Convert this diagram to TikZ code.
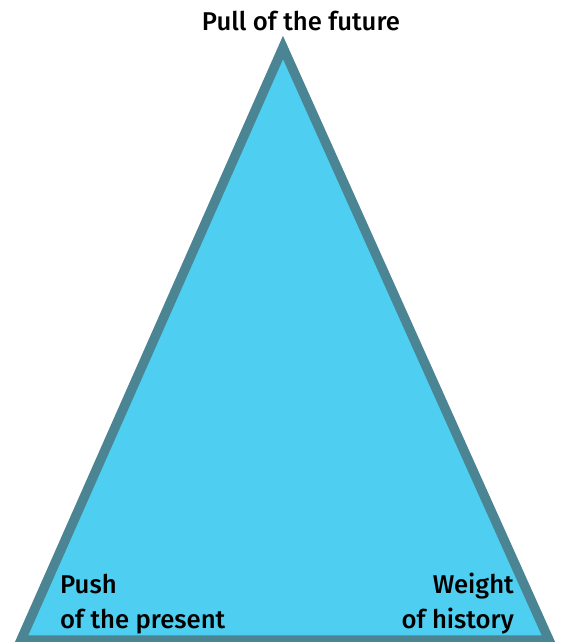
\documentclass[tikz,border=0pt]{standalone}
\usepackage{fontspec}
\setmainfont{Fira Sans}[BoldFont={Fira Sans Medium}]
\definecolor{trifill}{HTML}{4ECEF0}
\definecolor{tristroke}{HTML}{4B8593}
\begin{document}
\begin{tikzpicture}[x=1pt,y=-1pt,
  lbl/.style={font=\bfseries\fontsize{25.7}{35}\selectfont, inner sep=0pt, text=black}]
\useasboundingbox (0,0) rectangle (563,642);
\coordinate (top) at (283,47.5);
\coordinate (bl) at (21,640);
\coordinate (br) at (549,640);
\draw[line width=9.5pt, fill=trifill, draw=tristroke, line join=miter] (top) -- (bl) -- (br) -- cycle;
\node[lbl, anchor=base] (future) at (301,31) {Pull of the future};
\node[lbl, anchor=base west, align=left] (present) at (60,628) {Push\\of the present};
\node[lbl, anchor=base east, align=right] (history) at (514,628) {Weight\\of history};
\end{tikzpicture}
\end{document}
